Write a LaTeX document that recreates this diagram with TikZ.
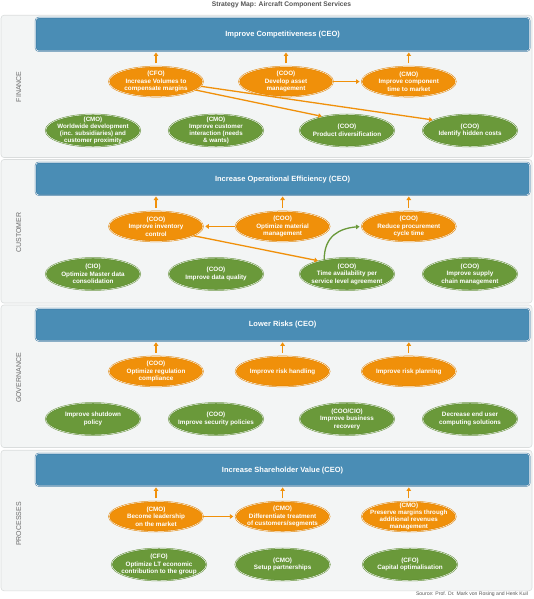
\documentclass[tikz,border=0pt]{standalone}
\usepackage{fontspec}
\setmainfont{Liberation Sans}
\usetikzlibrary{shapes.geometric,arrows.meta}
\definecolor{panelF}{HTML}{F3F5F5}
\definecolor{panelD}{HTML}{DADDDD}
\definecolor{blueF}{HTML}{4A8DB5}
\definecolor{blueD}{HTML}{3A78A2}
\definecolor{orF}{HTML}{F0900A}
\definecolor{orD}{HTML}{E08200}
\definecolor{grF}{HTML}{6A993A}
\definecolor{grD}{HTML}{5A8A2E}
\definecolor{lbl}{HTML}{6B6B6B}
\definecolor{ttl}{HTML}{555555}
\tikzset{
  panel/.style={fill=panelF, draw=panelD, line width=0.6pt, rounded corners=3pt},
  bluebox/.style={fill=blueF, draw=blueD, double=white, double distance=0.5pt, line width=0.5pt, rounded corners=3pt},
  bluetxt/.style={font=\fontsize{7.5}{8}\selectfont\bfseries, text=white},
  oell/.style={ellipse, minimum width=94pt, minimum height=30pt, inner sep=0pt, fill=orF, draw=orD, double=white, double distance=0.45pt, line width=0.5pt},
  gell/.style={ellipse, minimum width=94.5pt, minimum height=32pt, inner sep=0pt, fill=grF, draw=grD, double=white, double distance=0.45pt, line width=0.5pt},
  etxt/.style={align=center, text=white, font=\fontsize{6.3}{7.6}\selectfont\bfseries, inner sep=0pt},
  tight/.style={font=\fontsize{6.2}{6.8}\selectfont\bfseries},
  secl/.style={rotate=90, text=lbl, font=\fontsize{7}{8}\selectfont},
  oarr/.style={draw=orF, line width=1.3pt, -{Triangle[length=3.5pt,width=4.5pt]}},
  garr/.style={draw=grF, line width=1.3pt, -{Triangle[length=3.5pt,width=4.5pt]}},
}
\newcommand{\ellnode}[5][]{\node[#2] (#3) at (#4) {}; \node[etxt,#1] (#3t) at (#3) {#5};}
\begin{document}
\begin{tikzpicture}[x=1pt,y=-1pt]
\useasboundingbox (0,0) rectangle (533,599);
\fill[white] (0,0) rectangle (533,599);
\node[text=ttl, font=\fontsize{6.7}{7}\selectfont\bfseries] (title) at (281.5,4.5) {Strategy Map: Aircraft Component Services};
\node[text=ttl, font=\fontsize{5.1}{5.5}\selectfont, anchor=east] (src) at (531.5,594.6) {Source: Prof. Dr. Mark von Rosing and Henk Kuil};

% ---------- FINANCE ----------
\path[panel] (1,15.3) rectangle (532,157.5);
\node[secl] (lf) at (18.7,86.7) {FINANCE};
\path[bluebox] (35.7,17.7) rectangle (529.6,51);
\node[bluetxt] (bf) at (282.6,34.5) {Improve Competitiveness (CEO)};
\coordinate (bfb) at (282.6,51);
\ellnode{oell}{fo1}{156,81.6}{(CFO)\\Increase Volumes to\\compensate margins}
\ellnode{oell}{fo2}{286,81.6}{(COO)\\Develop asset\\management}
\ellnode{oell}{fo3}{408.8,81.6}{(CMO)\\Improve component\\time to market}
\ellnode[tight]{gell}{fg1}{93,130.5}{(CMO)\\Worldwide development\\(inc. subsidiaries) and\\customer proximity}
\ellnode[tight]{gell}{fg2}{216,130.5}{(CMO)\\Improve customer\\interaction (needs\\\& wants)}
\ellnode{gell}{fg3}{347,130.5}{(COO)\\Product diversification}
\ellnode{gell}{fg4}{470,130.5}{(COO)\\Identify hidden costs}
\draw[oarr, shorten <=3pt, shorten >=1.5pt] (fo1.north) -- (fo1.north |- bfb);
\draw[oarr, shorten <=3pt, shorten >=1.5pt] (fo2.north) -- (fo2.north |- bfb);
\draw[oarr, shorten <=3pt, shorten >=1.5pt] (fo3.north) -- (fo3.north |- bfb);
\draw[oarr, shorten >=2pt] (fo2.east) -- (fo3.west);
\draw[oarr, shorten >=1pt] (fo1.-12) -- (fg3.150);
\draw[oarr, shorten >=1pt] (fo1.-6) -- (fg4.164);

% ---------- CUSTOMER ----------
\path[panel] (1,159.5) rectangle (532,303);
\node[secl] (lc) at (18.7,232.5) {CUSTOMER};
\path[bluebox] (35.7,162.5) rectangle (529.6,195);
\node[bluetxt] (bc) at (282.6,179.8) {Increase Operational Efficiency (CEO)};
\coordinate (bcb) at (282.6,195);
\ellnode{oell}{co1}{156,226.4}{(COO)\\Improve inventory\\control}
\ellnode{oell}{co2}{282.6,226.4}{(COO)\\Optimize material\\management}
\ellnode{oell}{co3}{408.8,226.4}{(COO)\\Reduce procurement\\cycle time}
\ellnode{gell}{cg1}{93,274}{(CIO)\\Optimize Master data\\consolidation}
\ellnode{gell}{cg2}{216,274}{(COO)\\Improve data quality}
\ellnode{gell}{cg3}{347,274}{(COO)\\Time availability per\\service level agreement}
\ellnode{gell}{cg4}{470,274}{(COO)\\Improve supply\\chain management}
\draw[oarr, shorten <=3pt, shorten >=1.5pt] (co1.north) -- (co1.north |- bcb);
\draw[oarr, shorten <=3pt, shorten >=1.5pt] (co2.north) -- (co2.north |- bcb);
\draw[oarr, shorten <=3pt, shorten >=1.5pt] (co3.north) -- (co3.north |- bcb);
\draw[oarr, shorten >=2pt] (co2.west) -- (co1.east);
\draw[oarr, shorten >=1pt] (co1.-14) -- (cg3.155);
\draw[garr, shorten >=2pt] (cg3.148) .. controls +(0,-24) and +(-22,2) .. (co3.west);

% ---------- GOVERNANCE ----------
\path[panel] (1,305) rectangle (532,447.5);
\node[secl] (lg) at (18.7,378) {GOVERNANCE};
\path[bluebox] (35.7,308.5) rectangle (529.6,340.8);
\node[bluetxt] (bg) at (282.6,324.8) {Lower Risks (CEO)};
\coordinate (bgb) at (282.6,340.8);
\ellnode{oell}{go1}{156,371.4}{(COO)\\Optimize regulation\\compliance}
\ellnode{oell}{go2}{282.6,371.4}{Improve risk handling}
\ellnode{oell}{go3}{408.8,371.4}{Improve risk planning}
\ellnode{gell}{gg1}{93,419}{Improve shutdown\\policy}
\ellnode{gell}{gg2}{216,419}{(COO)\\Improve security policies}
\ellnode{gell}{gg3}{347,419}{(COO/CIO)\\Improve business\\recovery}
\ellnode{gell}{gg4}{470,419}{Decrease end user\\computing solutions}
\draw[oarr, shorten <=3pt, shorten >=1.5pt] (go1.north) -- (go1.north |- bgb);
\draw[oarr, shorten <=3pt, shorten >=1.5pt] (go2.north) -- (go2.north |- bgb);
\draw[oarr, shorten <=3pt, shorten >=1.5pt] (go3.north) -- (go3.north |- bgb);

% ---------- PROCESSES ----------
\path[panel] (1,450.2) rectangle (532,590.8);
\node[secl] (lp) at (18.7,524) {PROCESSES};
\path[bluebox] (35.7,453.6) rectangle (529.6,485.9);
\node[bluetxt] (bp) at (282.6,470.6) {Increase Shareholder Value (CEO)};
\coordinate (bpb) at (282.6,485.9);
\ellnode{oell}{po1}{156,516.5}{(CMO)\\Become leadership\\on the market}
\ellnode{oell}{po2}{282.6,516.5}{(CMO)\\Differentiate treatment\\of customers/segments}
\ellnode[tight]{oell}{po3}{408.8,516.5}{(CMO)\\Preserve margins through\\additional revenues\\management}
\ellnode{gell}{pg1}{159,564.5}{(CFO)\\Optimize LT economic\\contribution to the group}
\ellnode{gell}{pg2}{282.6,564.5}{(CMO)\\Setup partnerships}
\ellnode{gell}{pg3}{410,564.5}{(CFO)\\Capital optimalisation}
\draw[oarr, shorten <=3pt, shorten >=1.5pt] (po1.north) -- (po1.north |- bpb);
\draw[oarr, shorten <=3pt, shorten >=1.5pt] (po2.north) -- (po2.north |- bpb);
\draw[oarr, shorten <=3pt, shorten >=1.5pt] (po3.north) -- (po3.north |- bpb);
\draw[oarr, shorten >=2pt] (po1.east) -- (po2.west);
\end{tikzpicture}
\end{document}
